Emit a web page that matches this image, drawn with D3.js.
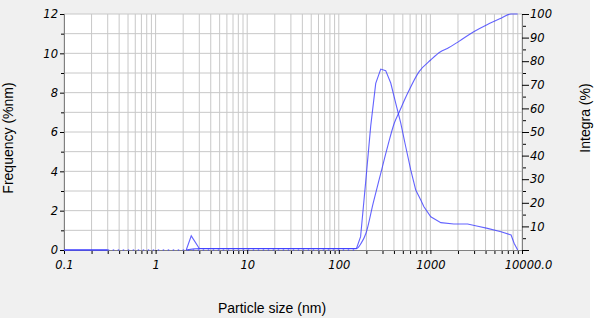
<!DOCTYPE html>
<html>
<head>
<meta charset="utf-8">
<script src="https://cdn.jsdelivr.net/npm/d3@7"></script>
<style>
  body { margin: 0; background: #fff; }
  svg { display: block; }
  .tick text { font-family: "DejaVu Sans", sans-serif; font-style: italic; font-size: 11.5px; fill: #000; }
  .title { font-family: "Liberation Sans", Arial, sans-serif; font-size: 14px; fill: #000; }
</style>
</head>
<body>
<div id="chart"></div>
<script>
// particle size (nm) and frequency (%nm)
var freqSize = [2.16, 2.45, 3.0, 156, 173, 196, 223, 253, 287, 325, 369, 418, 474, 538, 610, 692, 785, 850, 1010, 1300, 1800, 2550, 3200, 4200, 5900, 7600, 8200, 8970];
var freqVal  = [0, 0.72, 0.08, 0.08, 0.68, 3.4, 6.3, 8.47, 9.2, 9.12, 8.49, 7.47, 6.46, 5.25, 4.07, 3.05, 2.54, 2.2, 1.69, 1.39, 1.32, 1.32, 1.22, 1.1, 0.93, 0.76, 0.34, 0];
// particle size (nm) and integral (%)
var intSize = [2.16, 3.0, 156, 175, 198, 237, 287, 341, 403, 458, 564, 753, 1007, 1290, 1530, 2030, 2970, 4200, 5900, 7580, 8970];
var intVal  = [0, 0.6, 0.6, 2.8, 7.1, 19.8, 32.5, 43.8, 53.7, 58.6, 66.4, 75.6, 80.5, 84, 85.4, 88.3, 92.5, 95.6, 98.2, 100, 100];
// baseline pieces at zero
var baseSolid = [0.1, 0.3];
var baseDotted = [0.3, 156];
var xTicks = [0.1, 1, 10, 100, 1000, 10000];
var yLeftTicks = [0, 2, 4, 6, 8, 10, 12];
var yRightTicks = [0, 10, 20, 30, 40, 50, 60, 70, 80, 90, 100];

var w = 600, h = 320;
var margin = {top: 14, right: 78, bottom: 70, left: 64},
    width = w - margin.left - margin.right,
    height = h - margin.top - margin.bottom;

var svg = d3.select("#chart").append("svg")
    .attr("width", w)
    .attr("height", h);

// gray panel
svg.append("rect")
    .attr("x", 0).attr("y", 0)
    .attr("width", 590).attr("height", 318)
    .attr("fill", "#f0f0f0");

var g = svg.append("g")
    .attr("transform", "translate(" + margin.left + "," + margin.top + ")");

var x = d3.scaleLog().domain([0.1, 10000]).range([0, width]),
    yL = d3.scaleLinear().domain([0, 12]).range([height, 0]),
    yR = d3.scaleLinear().domain([0, 100]).range([height, 0]);

g.append("rect")
    .attr("width", width)
    .attr("height", height)
    .attr("fill", "#fff");

// minor log ticks (2..9 of each decade)
var minorX = [];
xTicks.slice(0, -1).forEach(function(d) {
  for (var k = 2; k <= 9; k++) minorX.push(d * k);
});

// grid
g.append("g").selectAll("line")
    .data(minorX.concat(xTicks))
    .enter().append("line")
    .attr("x1", function(d) { return x(d); })
    .attr("x2", function(d) { return x(d); })
    .attr("y1", 0).attr("y2", height)
    .attr("stroke", "#c8c8c8");
g.append("g").selectAll("line")
    .data(d3.range(1, 13))
    .enter().append("line")
    .attr("x1", 0).attr("x2", width)
    .attr("y1", function(d) { return yL(d); })
    .attr("y2", function(d) { return yL(d); })
    .attr("stroke", "#c8c8c8");

// axes
function styleAxis(sel) {
  sel.select(".domain").attr("stroke", "#808080");
  sel.selectAll(".tick line").attr("stroke", "#000");
}
g.append("g")
    .attr("transform", "translate(0," + height + ")")
    .call(d3.axisBottom(x).tickValues(minorX).tickSize(4).tickFormat(""))
    .call(styleAxis);
g.append("g")
    .attr("transform", "translate(0," + height + ")")
    .call(d3.axisBottom(x).tickValues(xTicks).tickSize(4).tickPadding(7)
      .tickFormat(function(d) { return d === 10000 ? "10000.0" : d3.format("~g")(d); }))
    .call(styleAxis)
    .selectAll(".tick text")
    .attr("dx", function(d) { return d === 10000 ? 6 : 0; });

g.append("g")
    .call(d3.axisLeft(yL).tickValues([1, 3, 5, 7, 9, 11]).tickSize(3).tickFormat(""))
    .call(styleAxis);
g.append("g")
    .call(d3.axisLeft(yL).tickValues(yLeftTicks).tickSize(4).tickPadding(2))
    .call(styleAxis);

g.append("g")
    .attr("transform", "translate(" + width + ",0)")
    .call(d3.axisRight(yR).tickValues(d3.range(5, 100, 10)).tickSize(4).tickFormat(""))
    .call(styleAxis);
g.append("g")
    .attr("transform", "translate(" + width + ",0)")
    .call(d3.axisRight(yR).tickValues(yRightTicks).tickSize(7).tickPadding(1)
      .tickFormat(function(d) { return d === 0 ? "" : d; }))
    .call(styleAxis);

// curves
var lineF = d3.line()
    .x(function(d) { return x(d[0]); })
    .y(function(d) { return yL(d[1]); });
var lineI = d3.line()
    .curve(d3.curveMonotoneX)
    .x(function(d) { return x(d[0]); })
    .y(function(d) { return yR(d[1]); });
var blue = "#3c3cff";

g.append("path")
    .datum(baseSolid.map(function(d) { return [d, 0]; }))
    .attr("fill", "none").attr("stroke", blue).attr("stroke-width", 1.3)
    .attr("d", lineF);
g.append("path")
    .datum(baseDotted.map(function(d) { return [d, 0]; }))
    .attr("fill", "none").attr("stroke", blue).attr("stroke-width", 1.2)
    .attr("stroke-dasharray", "1.5,3.5")
    .attr("d", lineF);
g.append("path")
    .datum(d3.zip(freqSize, freqVal))
    .attr("fill", "none").attr("stroke", blue).attr("stroke-opacity", 0.8)
    .attr("stroke-width", 1.1)
    .attr("d", lineF);
g.append("path")
    .datum(d3.zip(intSize, intVal))
    .attr("fill", "none").attr("stroke", blue).attr("stroke-opacity", 0.8)
    .attr("stroke-width", 1.1)
    .attr("d", lineI);

// titles
svg.append("text")
    .attr("class", "title")
    .attr("x", 272).attr("y", 313)
    .attr("text-anchor", "middle")
    .text("Particle size (nm)");
svg.append("text")
    .attr("class", "title")
    .attr("transform", "translate(13,138) rotate(-90)")
    .attr("text-anchor", "middle")
    .text("Frequency (%nm)");
svg.append("text")
    .attr("class", "title")
    .attr("transform", "translate(590,118) rotate(-90)")
    .attr("text-anchor", "middle")
    .text("Integra (%)");
</script>
</body>
</html>
